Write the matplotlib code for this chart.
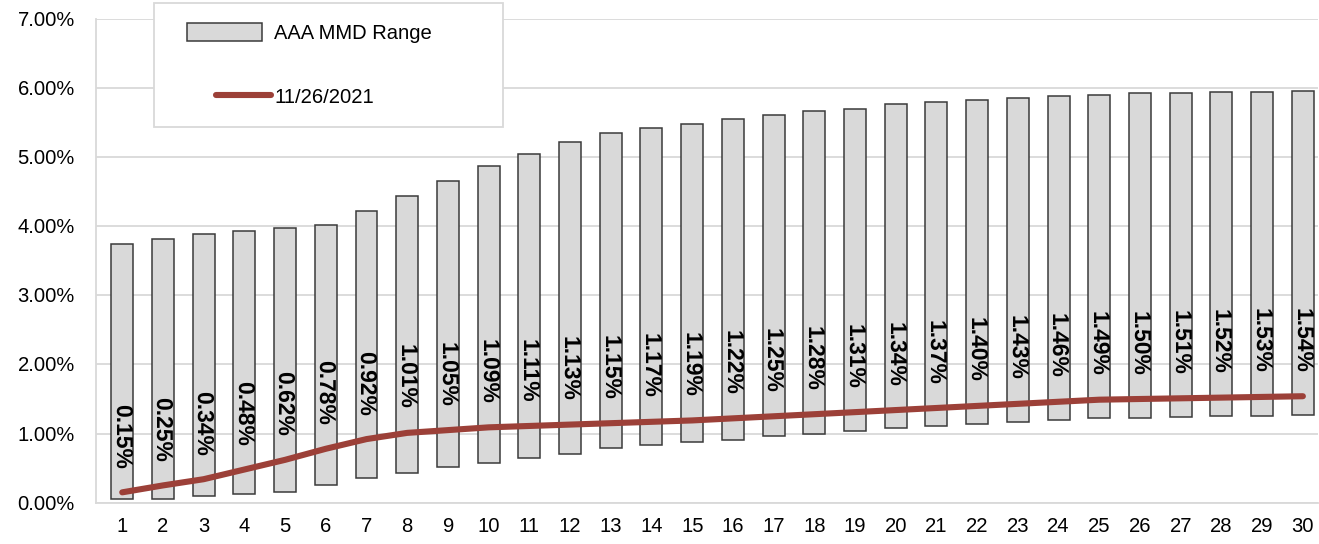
import numpy as np
import matplotlib
matplotlib.use("Agg")
import matplotlib.pyplot as plt
from matplotlib.patches import Rectangle
from matplotlib.legend_handler import HandlerLine2D
from matplotlib.font_manager import FontProperties
from matplotlib.ticker import FuncFormatter, MultipleLocator

plt.rcParams["font.family"] = ["Liberation Sans", "DejaVu Sans"]
plt.rcParams["text.hinting"] = "native"

# maturity (years) and yields in percent
maturity = list(range(1, 31))
mmd_low = [0.05, 0.05, 0.10, 0.13, 0.16, 0.26, 0.36, 0.43, 0.51, 0.58,
           0.64, 0.71, 0.79, 0.83, 0.88, 0.91, 0.96, 1.00, 1.04, 1.08,
           1.11, 1.14, 1.17, 1.20, 1.22, 1.23, 1.24, 1.25, 1.26, 1.27]
mmd_high = [3.74, 3.81, 3.88, 3.93, 3.98, 4.01, 4.22, 4.44, 4.66, 4.87,
            5.05, 5.21, 5.35, 5.42, 5.48, 5.55, 5.61, 5.66, 5.70, 5.76,
            5.80, 5.83, 5.85, 5.88, 5.90, 5.92, 5.93, 5.94, 5.94, 5.95]
curve_1126 = [0.15, 0.25, 0.34, 0.48, 0.62, 0.78, 0.92, 1.01, 1.05, 1.09,
              1.11, 1.13, 1.15, 1.17, 1.19, 1.22, 1.25, 1.28, 1.31, 1.34,
              1.37, 1.40, 1.43, 1.46, 1.49, 1.50, 1.51, 1.52, 1.53, 1.54]
range_label = "AAA MMD Range"
curve_label = "11/26/2021"

LINE_COLOR = "#9c4038"
GRID_COLOR = "#d9d9d9"


class OffsetLineHandler(HandlerLine2D):
    # short line sitting to the right of the legend handle box
    def get_xdata(self, legend, xdescent, ydescent, width, height, fontsize):
        x = np.array([-xdescent + 0.39 * width, -xdescent + 1.12 * width])
        return x, x


def draw_unhinted(artist):
    # rotated bold text looks cleaner without glyph hinting
    orig = artist.draw

    def draw(renderer):
        with plt.rc_context({"text.hinting": "no_hinting"}):
            orig(renderer)
    artist.draw = draw


fig = plt.figure(figsize=(13.19, 5.44), dpi=100)
ax = fig.add_axes([0.0726, 0.0759, 0.9266, 0.8897])

heights = np.array(mmd_high) - np.array(mmd_low)
bars = ax.bar(maturity, heights, bottom=mmd_low, width=0.54,
              color="#d9d9d9", edgecolor="#3a3a3a", linewidth=1.1,
              zorder=2, label=range_label)
line, = ax.plot(maturity, curve_1126, color=LINE_COLOR, linewidth=4.4,
                solid_capstyle="round", solid_joinstyle="round",
                zorder=3, label=curve_label)

label_font = FontProperties(family="Liberation Sans", weight="bold", size=16.5)
for x, v in zip(maturity, curve_1126):
    ann = ax.annotate("%.2f%%" % v, (x, v), xytext=(-1, 17),
                      textcoords="offset points", rotation=270,
                      ha="center", va="bottom", fontproperties=label_font,
                      color="black", zorder=4)
    draw_unhinted(ann)

ax.set_xlim(0.35, 30.37)
ax.set_ylim(0, 7)
ax.set_xticks(maturity)
ax.yaxis.set_major_locator(MultipleLocator(1))
ax.yaxis.set_major_formatter(FuncFormatter(lambda v, p: "%.2f%%" % v))
ax.tick_params(axis="both", length=0, labelsize=14.5, colors="black")
ax.tick_params(axis="y", pad=15)
ax.tick_params(axis="x", pad=11)

ax.grid(axis="y", color=GRID_COLOR, linewidth=1.3)
ax.set_axisbelow(True)
for side in ["top", "right"]:
    ax.spines[side].set_visible(False)
for side in ["left", "bottom"]:
    ax.spines[side].set_color(GRID_COLOR)
    ax.spines[side].set_linewidth(1.3)

# legend box
ax.add_patch(Rectangle((0.0477, 0.776), 0.2855, 0.2564,
                       transform=ax.transAxes, facecolor="white",
                       edgecolor=GRID_COLOR, linewidth=1.3,
                       clip_on=False, zorder=5))
leg = ax.legend(handles=[bars, line], loc="upper left",
                bbox_to_anchor=(0.0748, 0.992), borderaxespad=0,
                borderpad=0, frameon=False, fontsize=14.5,
                handlelength=3.7, handleheight=1.06, handletextpad=0.62,
                labelspacing=2.2,
                handler_map={line: OffsetLineHandler()})
leg.set_zorder(6)

fig.savefig("out.png", dpi=100)
